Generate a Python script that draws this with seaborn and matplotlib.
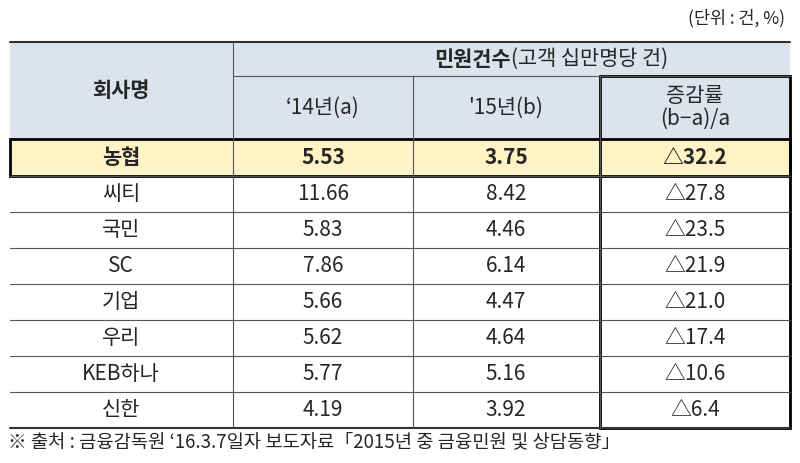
import matplotlib
matplotlib.use("Agg")
import matplotlib.pyplot as plt
import seaborn as sns
from matplotlib.patches import Rectangle

sns.set_theme(style="white")
plt.rcParams['font.family'] = ['Noto Sans CJK KR', 'DejaVu Sans']

companies = ["농협", "씨티", "국민", "SC", "기업", "우리", "KEB하나", "신한"]
y14 = [5.53, 11.66, 5.83, 7.86, 5.66, 5.62, 5.77, 4.19]
y15 = [3.75, 8.42, 4.46, 6.14, 4.47, 4.64, 5.16, 3.92]
change = [32.2, 27.8, 23.5, 21.9, 21.0, 17.4, 10.6, 6.4]

fig = plt.figure(figsize=(8, 4.63), dpi=100)
ax = fig.add_axes([0, 0, 1, 1])
ax.set_xlim(0, 800); ax.set_ylim(463, 0); ax.axis("off")

cols = [10, 233, 413, 600, 790]
top, h1, h2 = 42, 76, 139
rows = [h2, 176] + [176 + 36 * i for i in range(1, 8)]
hdr = "#dde3ec"
ax.add_patch(Rectangle((10, top), 780, h2 - top, facecolor=hdr, edgecolor="none"))
ax.add_patch(Rectangle((10, rows[0]), 780, rows[1] - rows[0], facecolor="#fff2c4", edgecolor="none"))

lc = "#555555"
ax.plot([10, 790], [top, top], color="#333", lw=1.5)
ax.plot([10, 790], [rows[-1], rows[-1]], color="#333", lw=1.5)
ax.plot([233, 790], [h1, h1], color=lc, lw=0.8)
for y in rows[1:-1]:
    ax.plot([10, 790], [y, y], color=lc, lw=0.8)
for x in cols[1:-1]:
    ax.plot([x, x], [top if x == 233 else h1, rows[-1]], color=lc, lw=0.8)
ax.add_patch(Rectangle((600, h1), 190, rows[-1] - h1, fill=False, edgecolor="black", lw=2))
ax.add_patch(Rectangle((10, rows[0]), 780, rows[1] - rows[0], fill=False, edgecolor="black", lw=2))

fs = 15
ax.text(121, (top + h2) / 2, "회사명", ha="center", va="center", fontsize=fs, fontweight="bold")
ax.text(511, (top + h1) / 2, "민원건수", ha="right", va="center", fontsize=fs, fontweight="bold")
ax.text(511, (top + h1) / 2, "(고객 십만명당 건)", ha="left", va="center", fontsize=fs)
ax.text(323, (h1 + h2) / 2, "‘14년(a)", ha="center", va="center", fontsize=fs)
ax.text(506, (h1 + h2) / 2, "'15년(b)", ha="center", va="center", fontsize=fs)
ax.text(695, (h1 + h2) / 2, "증감률\n(b−a)/a", ha="center", va="center", fontsize=fs, linespacing=1.05)

for i, c in enumerate(companies):
    yc = (rows[i] + rows[i + 1]) / 2
    w = "bold" if i == 0 else "normal"
    ax.text(121, yc, c, ha="center", va="center", fontsize=fs, fontweight=w)
    ax.text(323, yc, f"{y14[i]:.2f}", ha="center", va="center", fontsize=fs, fontweight=w)
    ax.text(506, yc, f"{y15[i]:.2f}", ha="center", va="center", fontsize=fs, fontweight=w)
    ax.text(695, yc, f"△{change[i]:.1f}", ha="center", va="center", fontsize=fs, fontweight=w)

ax.text(785, 18, "(단위 : 건, %)", ha="right", va="center", fontsize=12.5)
ax.text(8, 442, "※ 출처 : 금융감독원 ‘16.3.7일자 보도자료「2015년 중 금융민원 및 상담동향」",
        ha="left", va="center", fontsize=13.5)
fig.savefig("out.png", dpi=100)
